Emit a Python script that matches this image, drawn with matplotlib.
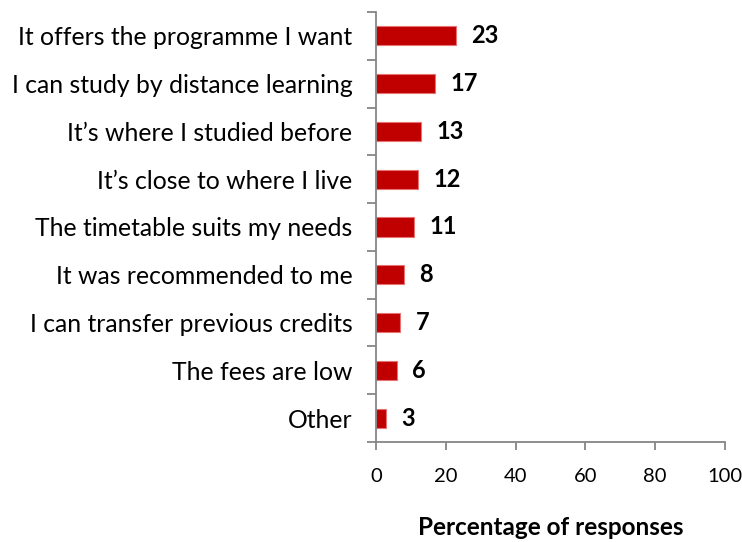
import matplotlib.pyplot as plt
import numpy as np

reasons = [
    "It offers the programme I want",
    "I can study by distance learning",
    "It\u2019s where I studied before",
    "It\u2019s close to where I live",
    "The timetable suits my needs",
    "It was recommended to me",
    "I can transfer previous credits",
    "The fees are low",
    "Other",
]
percent = [23, 17, 13, 12, 11, 8, 7, 6, 3]

plt.rcParams['font.family'] = ['Lato', 'DejaVu Sans']

fig = plt.figure(figsize=(7.42, 5.42), dpi=100)
ax = fig.add_axes([0.5067, 0.1845, 0.4704, 0.7934])

y = np.arange(len(reasons))
ax.barh(y, percent, height=0.4, color='#C00000', edgecolor='#E57373', linewidth=0.8)

for yi, v in zip(y, percent):
    ax.annotate(str(v), (v, yi), xytext=(11, 0), textcoords='offset points',
                ha='left', va='center', fontsize=17, fontweight='bold', color='black')

ax.set_xlim(0, 100)
ax.set_ylim(len(reasons) - 0.5, -0.5)
ax.set_xticks(np.arange(0, 101, 20))

# category boundaries carry the tick marks, centres carry the labels
ax.set_yticks(np.arange(-0.5, len(reasons), 1.0))
ax.set_yticklabels([])
ax.set_yticks(y, minor=True)
ax.set_yticklabels(reasons, minor=True, fontsize=17.8)
ax.tick_params(axis='y', which='minor', length=0, pad=17)
ax.tick_params(axis='y', which='major', length=6.5, width=1.3, color='#868686', direction='out')
ax.tick_params(axis='x', length=6, width=1.3, color='#868686', direction='out',
               labelsize=14.5, pad=13)

for side in ['top', 'right']:
    ax.spines[side].set_visible(False)
for side in ['left', 'bottom']:
    ax.spines[side].set_color('#868686')
    ax.spines[side].set_linewidth(1.3)

ax.set_xlabel('Percentage of responses', fontsize=17.5, fontweight='bold', labelpad=22)

fig.savefig('out.png', dpi=100)
